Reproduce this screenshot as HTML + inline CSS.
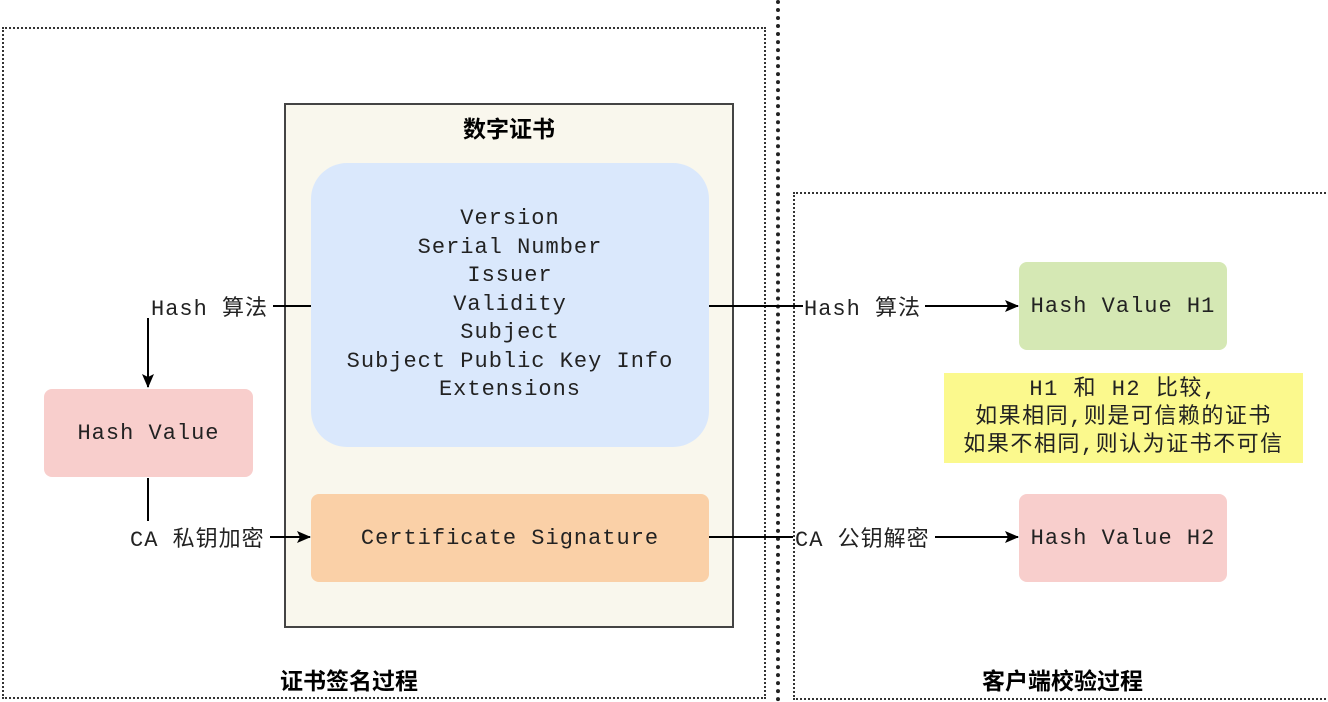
<!DOCTYPE html>
<html><head><meta charset="utf-8"><style>
body{margin:0;width:1328px;height:702px;background:#fff;position:relative;overflow:hidden;font-family:"Liberation Mono",monospace;}
.a{position:absolute;box-sizing:border-box;}
.m{font-family:"Liberation Mono","Noto Sans CJK SC",monospace;font-size:22px;color:#222;letter-spacing:1px;white-space:nowrap;}
.c{font-family:"Liberation Sans","Noto Sans CJK SC",sans-serif;}
.box{display:flex;align-items:center;justify-content:center;text-align:center;}
</style></head><body>
<div class="a" style="left:2px;top:27px;width:764px;height:672px;border:2px dotted #333;"></div>
<div class="a" style="left:776px;top:0;width:0;height:702px;border-left:4px dotted #222;"></div>
<div class="a" style="left:793px;top:192px;width:560px;height:508px;border:2px dotted #333;"></div>
<div class="a" style="left:284px;top:103px;width:450px;height:525px;background:#f9f7ed;border:2px solid #444;"></div>
<div class="a c" style="left:284px;top:110px;width:450px;text-align:center;font-size:23px;font-weight:bold;">数字证书</div>
<div class="a box m" style="left:311px;top:163px;width:398px;height:284px;background:#dae8fc;border-radius:36px;line-height:28.6px;">Version<br>Serial Number<br>Issuer<br>Validity<br>Subject<br>Subject Public Key Info<br>Extensions</div>
<div class="a box m" style="left:311px;top:494px;width:398px;height:88px;background:#fad0a7;border-radius:8px;">Certificate Signature</div>
<div class="a box m" style="left:44px;top:389px;width:209px;height:88px;background:#f8cecc;border-radius:8px;">Hash Value</div>
<div class="a box m" style="left:1019px;top:262px;width:208px;height:88px;background:#d5e8b4;border-radius:8px;">Hash Value H1</div>
<div class="a box m" style="left:1019px;top:494px;width:208px;height:88px;background:#f8cecc;border-radius:8px;">Hash Value H2</div>
<div class="a box m" style="left:944px;top:373px;width:359px;height:90px;background:#fbf98d;line-height:28px;font-size:22px;letter-spacing:1.5px;">H1 和 H2 比较,<br>如果相同,则是可信赖的证书<br>如果不相同,则认为证书不可信</div>
<svg class="a" style="left:0;top:0" width="1328" height="702">
<defs><marker id="ar" markerWidth="14" markerHeight="14" refX="13" refY="7" orient="auto" markerUnits="userSpaceOnUse"><path d="M0,1L14,7L0,13L3,7z" fill="#000"/></marker></defs>
<g stroke="#000" stroke-width="2" fill="none">
<line x1="311" y1="306" x2="273" y2="306"/>
<line x1="148" y1="318" x2="148" y2="387" marker-end="url(#ar)"/>
<line x1="148" y1="478" x2="148" y2="522"/>
<line x1="270" y1="537" x2="310" y2="537" marker-end="url(#ar)"/>
<line x1="709" y1="306" x2="803" y2="306"/>
<line x1="925" y1="306" x2="1018" y2="306" marker-end="url(#ar)"/>
<line x1="709" y1="537" x2="793" y2="537"/>
<line x1="935" y1="537" x2="1018" y2="537" marker-end="url(#ar)"/>
</g></svg>
<div class="a m" style="left:151px;top:290px;background:#fff;">Hash 算法</div>
<div class="a m" style="left:130px;top:521px;background:#fff;">CA 私钥加密</div>
<div class="a m" style="left:804px;top:290px;background:#fff;">Hash 算法</div>
<div class="a m" style="left:795px;top:521px;background:#fff;">CA 公钥解密</div>
<div class="a c" style="left:280px;top:662px;font-size:23px;font-weight:bold;">证书签名过程</div>
<div class="a c" style="left:982px;top:662px;font-size:23px;font-weight:bold;">客户端校验过程</div>
</body></html>
